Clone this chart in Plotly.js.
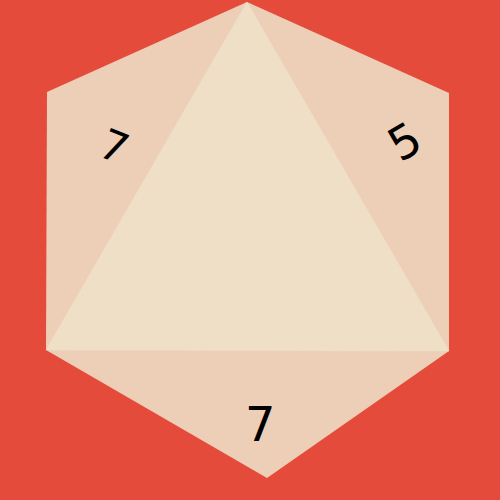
<!DOCTYPE html>
<html>
<head>
<meta charset="utf-8">
<script src="https://cdn.plot.ly/plotly-3.0.1.min.js"></script>
<style>
  html, body { margin: 0; padding: 0; background: #e44b3b; }
  #chart { width: 500px; height: 500px; }
</style>
</head>
<body>
<div id="chart"></div>
<script>
// Outline of the die (hexagon) and its front face (triangle), in picture pixels
var hexX = [247, 449, 449, 267, 46, 47, 247];
var hexY = [2, 93, 351, 478, 350, 92, 2];
var triX = [247, 449, 46, 247];
var triY = [2, 351, 350, 2];

// Numbers on the side faces
var faceLabels = ["7", "5", "7"];
var labelX = [114, 404, 260];
var labelY = [146, 142, 424];
var labelAngle = [22, -30, 0];
var labelSize = [42, 46, 48];

var traces = [
    {
        x: hexX,
        y: hexY,
        type: "scatter",
        mode: "lines",
        fill: "toself",
        fillcolor: "#edcfb7",
        line: { width: 0, color: "#edcfb7" },
        hoverinfo: "skip"
    },
    {
        x: triX,
        y: triY,
        type: "scatter",
        mode: "lines",
        fill: "toself",
        fillcolor: "#eedfc6",
        line: { width: 0.5, color: "#eedfc6" },
        hoverinfo: "skip"
    }
];

var annotations = faceLabels.map(function (t, i) {
    return {
        x: labelX[i],
        y: labelY[i],
        text: t,
        showarrow: false,
        textangle: labelAngle[i],
        font: { family: "DejaVu Sans", size: labelSize[i], color: "#000000" },
        xanchor: "center",
        yanchor: "middle"
    };
});

var layout = {
    width: 500,
    height: 500,
    margin: { l: 0, r: 0, t: 0, b: 0 },
    paper_bgcolor: "#e44b3b",
    plot_bgcolor: "#e44b3b",
    showlegend: false,
    xaxis: { range: [0, 500], visible: false, fixedrange: true },
    yaxis: { range: [500, 0], visible: false, fixedrange: true },
    annotations: annotations
};

Plotly.newPlot("chart", traces, layout, { displayModeBar: false, staticPlot: true });
</script>
</body>
</html>
